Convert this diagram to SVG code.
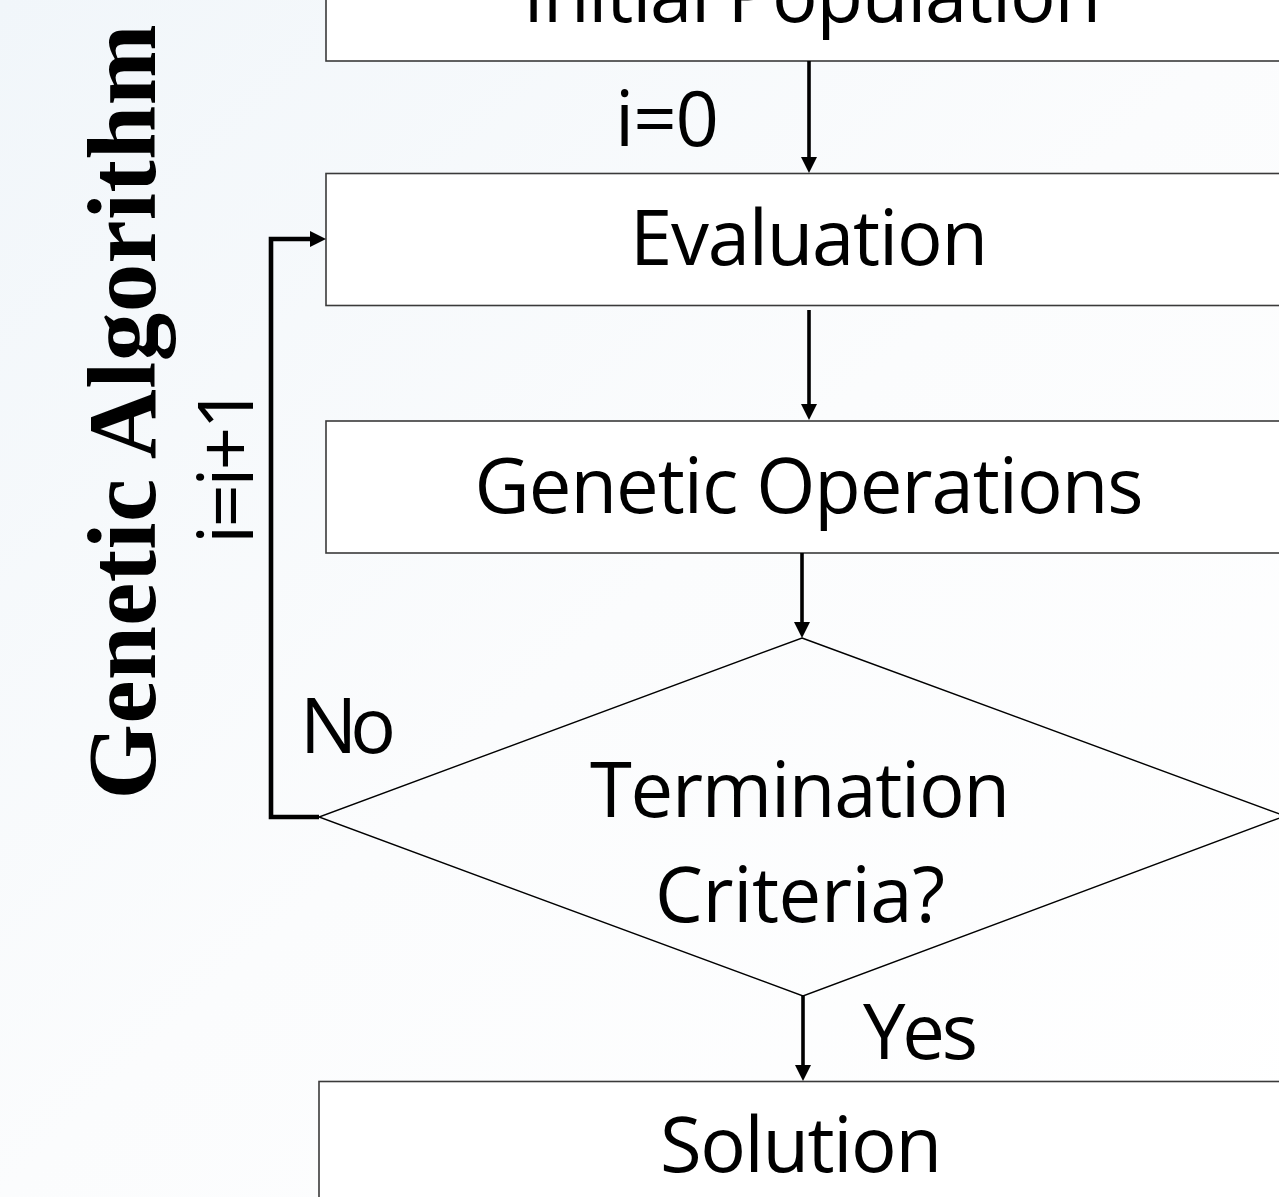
<svg xmlns="http://www.w3.org/2000/svg" width="1279" height="1197" viewBox="0 0 1279 1197">
  <defs>
    <linearGradient id="bg" x1="0" y1="0" x2="1" y2="1">
      <stop offset="0" stop-color="#f1f6fa"/>
      <stop offset="0.5" stop-color="#fbfcfd"/>
      <stop offset="1" stop-color="#ffffff"/>
    </linearGradient>
    <marker id="head" viewBox="0 0 16 16" markerWidth="16" markerHeight="16" refX="6" refY="8" orient="auto" markerUnits="userSpaceOnUse">
      <path d="M0,0 L16,8 L0,16 z" fill="#000"/>
    </marker>
    <style>
      .box { fill: #ffffff; stroke: #3a3a3a; stroke-width: 1.6; }
      .decision { fill: none; stroke: #000; stroke-width: 1.4; }
      .label { font-family: "Open Sans", "Noto Sans", sans-serif; font-size: 76px; fill: #000; }
      .mid { text-anchor: middle; }
      .flow { fill: none; stroke: #000; stroke-width: 3.6; }
      .loop { fill: none; stroke: #000; stroke-width: 4.6; stroke-linejoin: miter; }
      .title { font-family: "Liberation Serif", "Times New Roman", serif; font-weight: bold; font-size: 97px; fill: #000; text-anchor: middle; }
    </style>
  </defs>

  <rect x="0" y="0" width="1279" height="1197" fill="url(#bg)"/>

  <!-- vertical title -->
  <text class="title" transform="translate(155,412) rotate(-90)" textLength="775">Genetic Algorithm</text>

  <!-- process steps -->
  <g id="initial-population">
    <rect class="box" x="326" y="-80" width="1000" height="141"/>
    <text class="label mid" x="812" y="22" textLength="578">Initial Population</text>
  </g>

  <g id="evaluation">
    <rect class="box" x="326" y="173.5" width="1000" height="132"/>
    <text class="label mid" x="809" y="265" textLength="358">Evaluation</text>
  </g>

  <g id="genetic-operations">
    <rect class="box" x="326" y="421" width="1000" height="132"/>
    <text class="label mid" x="809" y="513" textLength="669">Genetic Operations</text>
  </g>

  <g id="termination">
    <polygon class="decision" points="802,638 1285,816 803,996 319,817"/>
    <text class="label mid" x="800" y="817" textLength="420">Termination</text>
    <text class="label mid" x="800" y="922" textLength="290">Criteria?</text>
  </g>

  <g id="solution">
    <rect class="box" x="319" y="1081.5" width="1000" height="200"/>
    <text class="label mid" x="801" y="1172" textLength="282">Solution</text>
  </g>

  <!-- connectors -->
  <g id="connectors">
    <line class="flow" x1="809" y1="61" x2="809" y2="163" marker-end="url(#head)"/>
    <line class="flow" x1="809" y1="310" x2="809" y2="410" marker-end="url(#head)"/>
    <line class="flow" x1="802" y1="553" x2="802" y2="628" marker-end="url(#head)"/>
    <line class="flow" x1="803" y1="996" x2="803" y2="1071" marker-end="url(#head)"/>
    <polyline class="loop" points="319,817 271,817 271,239 316,239" marker-end="url(#head)"/>
    <text class="label" x="615" y="146" textLength="104">i=0</text>
    <text class="label" x="300" y="753" textLength="96">No</text>
    <text class="label" x="863" y="1059" textLength="115">Yes</text>
    <text class="label mid" transform="translate(253,465) rotate(-90)" textLength="158">i=i+1</text>
  </g>
</svg>
